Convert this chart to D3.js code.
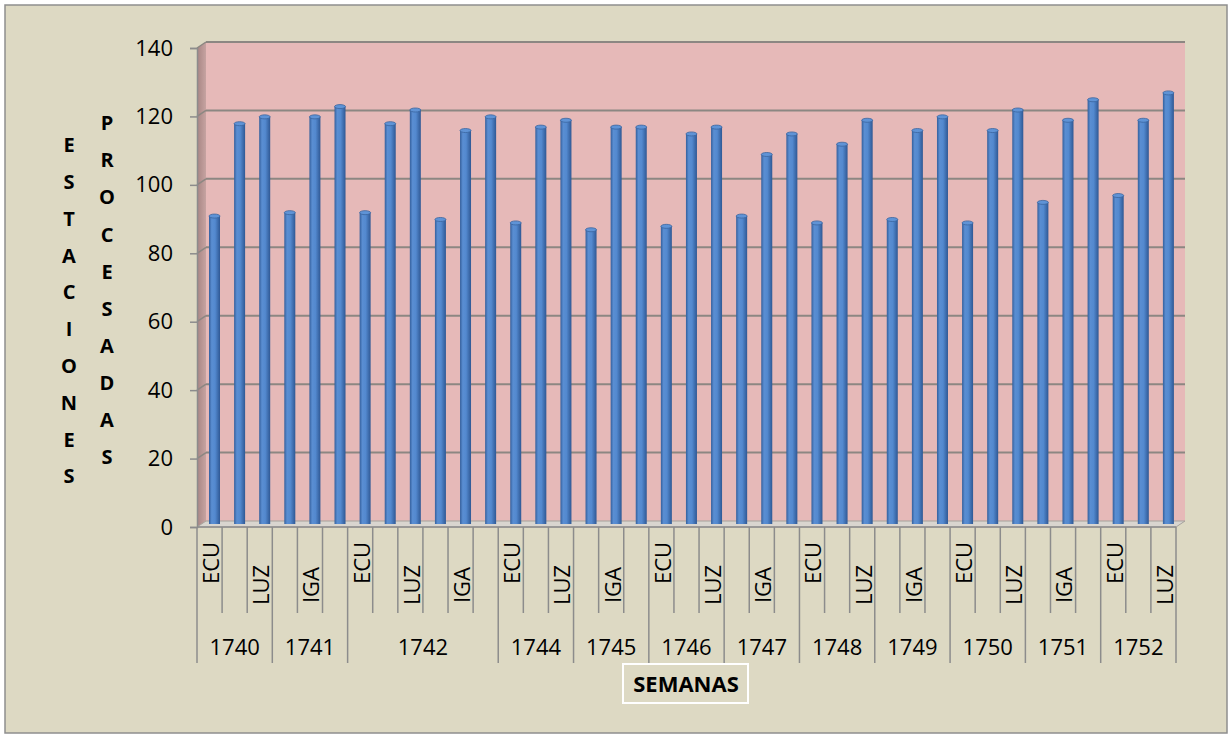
<!DOCTYPE html>
<html><head><meta charset="utf-8">
<script src="https://cdn.jsdelivr.net/npm/d3@7"></script>
<style>body{margin:0;background:#fff} text{font-family:"Open Sans",sans-serif;fill:#000}</style>
</head><body><svg id="c" width="1231" height="736"></svg>
<script>
const yearLabels = ["1740","1741","1742","1744","1745","1746","1747","1748","1749","1750","1751","1752"];
const yearSizes  = [3,3,6,3,3,3,3,3,3,3,3,3];
const categories = ["ECU","IGA","LUZ","ECU","IGA","LUZ","ECU","IGA","LUZ","ECU","IGA","LUZ",
  "ECU","IGA","LUZ","ECU","IGA","LUZ","ECU","IGA","LUZ","ECU","IGA","LUZ","ECU","IGA","LUZ",
  "ECU","IGA","LUZ","ECU","IGA","LUZ","ECU","IGA","LUZ","ECU","IGA","LUZ"];
const values = [90,117,119, 91,119,122, 91,117,121,89,115,119, 88,116,118, 86,116,116,
  87,114,116, 90,108,114, 88,111,118, 89,115,119, 88,115,121, 94,118,124, 96,118,126];
const yTickValues = [0,20,40,60,80,100,120,140];
const yTitleA = "ESTACIONES", yTitleB = "PROCESADAS", xTitle = "SEMANAS";

const svg = d3.select("#c");
const left = 197, right = 1176, dX = 9, dY = -6;
const x = d3.scaleBand().domain(d3.range(values.length)).range([left, right]);
const y = d3.scaleLinear().domain([0, 140]).range([527, 48]);
const bw = x.bandwidth();

const defs = svg.append("defs");
const sg = defs.append("linearGradient").attr("id","side").attr("x1",0).attr("x2",1);
sg.append("stop").attr("offset",0).attr("stop-color","#a78583");
sg.append("stop").attr("offset",1).attr("stop-color","#c6a3a1");
const bg = defs.append("linearGradient").attr("id","bar").attr("x1",0).attr("x2",1);
[[0,"#345f9c"],[0.25,"#5a8ed2"],[0.55,"#5389cf"],[1,"#2f5894"]].forEach(s=>
  bg.append("stop").attr("offset",s[0]).attr("stop-color",s[1]));

// chart area
svg.append("rect").attr("x",5).attr("y",5).attr("width",1222).attr("height",728)
  .attr("fill","#ddd9c3").attr("stroke","#8e8e8e").attr("stroke-width",1.5);

const y0 = y(0), yTop = y(140);
// back wall
svg.append("rect").attr("x",left+dX).attr("y",yTop+dY).attr("width",right-left)
  .attr("height",y0-yTop).attr("fill","#e6b9b8");
// side wall
svg.append("polygon").attr("points",[[left,yTop],[left+dX,yTop+dY],[left+dX,y0+dY],[left,y0]].join(" "))
  .attr("fill","url(#side)");
// floor
svg.append("polygon").attr("points",[[left,y0],[left+dX,y0+dY],[right+dX,y0+dY],[right,y0]].join(" "))
  .attr("fill","#d9d5cf").attr("stroke","#a5a29c").attr("stroke-width",1);

// gridlines
yTickValues.filter(v=>v>0).forEach(v=>{
  svg.append("line").attr("x1",left+dX).attr("x2",right+dX).attr("y1",y(v)+dY).attr("y2",y(v)+dY)
    .attr("stroke","#8c8782").attr("stroke-width",2);
  svg.append("line").attr("x1",left).attr("x2",left+dX).attr("y1",y(v)).attr("y2",y(v)+dY)
    .attr("stroke","#8c8782").attr("stroke-width",1.5);
});

// bars
const bars = svg.append("g");
values.forEach((v,i)=>{
  const cx = x(i) + bw/2 + dX*0.55, w = 11;
  const top = y(v) + dY/2, bot = y0 + dY/2;
  bars.append("rect").attr("x",cx-w/2).attr("y",top).attr("width",w).attr("height",bot-top)
    .attr("fill","url(#bar)");
  bars.append("ellipse").attr("cx",cx).attr("cy",top).attr("rx",w/2).attr("ry",2)
    .attr("fill","#5f93d6").attr("stroke","#3a649e").attr("stroke-width",0.8);
});

// y axis
const ya = svg.append("g").attr("transform",`translate(${left},0)`)
  .call(d3.axisLeft(y).tickValues(yTickValues).tickSize(7).tickPadding(17));
ya.selectAll("path,line").attr("stroke","#8c8c8c").attr("stroke-width",1.5);
ya.selectAll("text").style("font-family",'"Open Sans",sans-serif').style("font-size","22px").attr("fill","#000");

// x axis
svg.append("line").attr("x1",left).attr("x2",right).attr("y1",y0).attr("y2",y0)
  .attr("stroke","#8c8c8c").attr("stroke-width",1.5);
const yearStarts = [];
let acc = 0; yearSizes.forEach(s=>{ yearStarts.push(acc); acc += s; });
for (let i = 0; i <= values.length; i++) {
  const xx = i < values.length ? x(i) : right;
  const isYear = i === values.length || yearStarts.includes(i);
  svg.append("line").attr("x1",xx).attr("x2",xx).attr("y1",y0).attr("y2",isYear?663:613)
    .attr("stroke","#8c8c8c").attr("stroke-width",1.5);
}
categories.forEach((c,i)=>{
  if (i % 2 !== 0) return;
  const cx = x(i) + bw/2 + 1.5, cy = c === "ECU" ? 563 : 585;
  svg.append("text").attr("transform",`translate(${cx},${cy}) rotate(-90)`)
    .attr("text-anchor","middle").attr("dy","0.36em").style("font-size","22px").text(c);
});
yearLabels.forEach((yl,k)=>{
  const a = yearStarts[k], b = a + yearSizes[k];
  const xa = x(a), xb = b < values.length ? x(b) : right;
  svg.append("text").attr("x",(xa+xb)/2).attr("y",647).attr("text-anchor","middle")
    .attr("dy","0.36em").style("font-size","22px").text(yl);
});

// x title
svg.append("rect").attr("x",623).attr("y",664).attr("width",125).attr("height",39)
  .attr("fill","none").attr("stroke","#fff").attr("stroke-width",2);
svg.append("text").attr("x",686).attr("y",684).attr("text-anchor","middle").attr("dy","0.36em")
  .style("font-size","22px").style("font-weight","bold").text(xTitle);

// y titles (stacked letters)
yTitleA.split("").forEach((ch,k)=>{
  svg.append("text").attr("x",69).attr("y",145+k*36.8).attr("text-anchor","middle").attr("dy","0.36em")
    .style("font-size","20px").style("font-weight","bold").text(ch);
});
yTitleB.split("").forEach((ch,k)=>{
  svg.append("text").attr("x",107).attr("y",123+k*37.1).attr("text-anchor","middle").attr("dy","0.36em")
    .style("font-size","20px").style("font-weight","bold").text(ch);
});
</script></body></html>
